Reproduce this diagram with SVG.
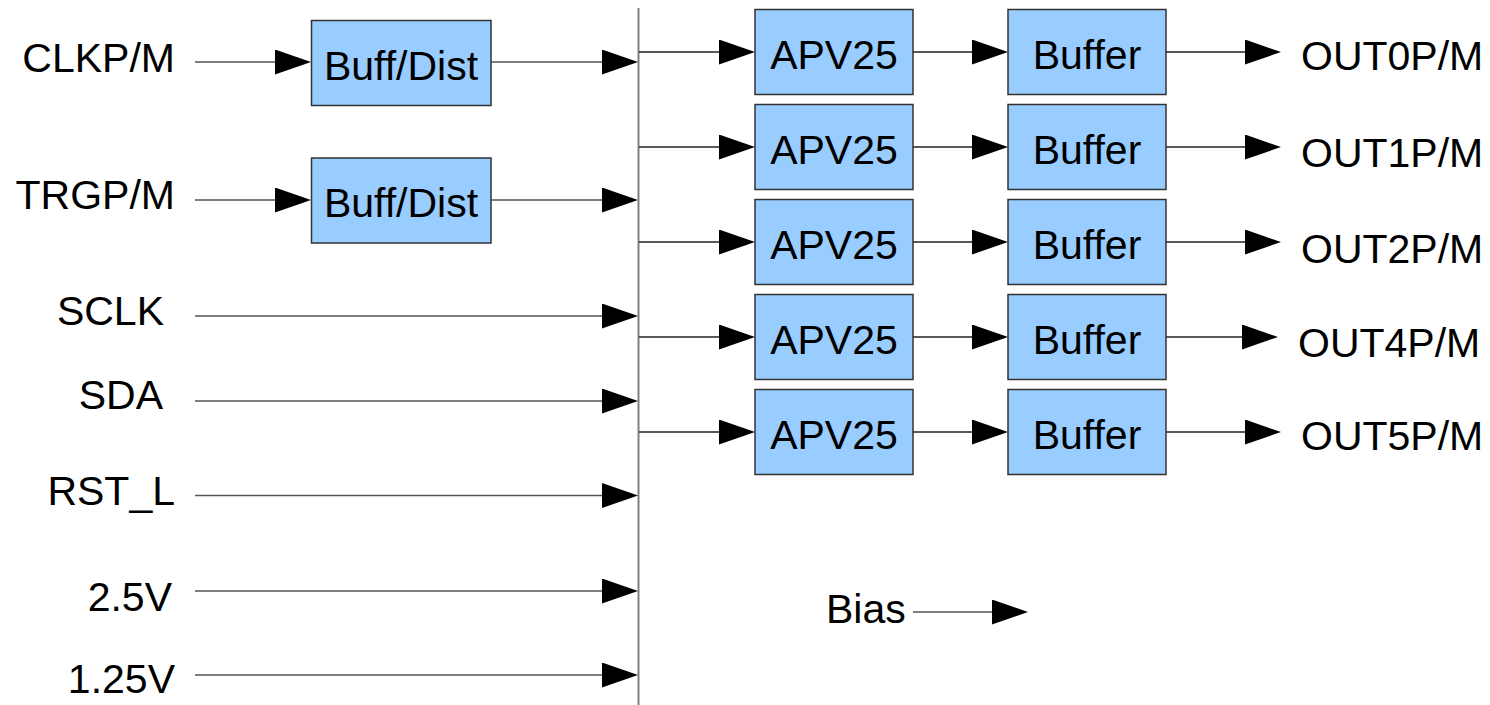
<svg xmlns="http://www.w3.org/2000/svg" width="1490" height="705" viewBox="0 0 1490 705">
  <defs>
    <marker id="arrow" viewBox="0 0 36 25" refX="0" refY="12.5" markerWidth="36" markerHeight="25" markerUnits="userSpaceOnUse" orient="auto">
      <path d="M0,0 L36,12.5 L0,25 Z" fill="#000"/>
    </marker>
    <style>
      .box { fill: #99ccff; stroke: #333; stroke-width: 1.5; }
      .lbl { font-family: "Liberation Sans", Arial, sans-serif; font-size: 41px; fill: #000; }
      .mid { text-anchor: middle; }
      .end { text-anchor: end; }
      .wire { stroke: #555; stroke-width: 1.5; fill: none; }
      .branch { stroke: #222; stroke-width: 1.4; fill: none; }
      .arr { marker-end: url(#arrow); }
      .bus { stroke: #808080; stroke-width: 2; fill: none; }
    </style>
  </defs>
  <rect width="1490" height="705" fill="#fff"/>

  <!-- connectors -->
  <g id="connectors">
    <line class="bus" x1="638.5" y1="8" x2="638.5" y2="705"/>
    <!-- inputs -->
    <line class="wire arr" x1="195" y1="62" x2="275" y2="62"/>
    <line class="wire arr" x1="491" y1="62" x2="602" y2="62"/>
    <line class="wire arr" x1="195" y1="200" x2="275" y2="200"/>
    <line class="wire arr" x1="491" y1="200" x2="602" y2="200"/>
    <line class="wire arr" x1="195" y1="316" x2="602" y2="316"/>
    <line class="wire arr" x1="195" y1="401" x2="602" y2="401"/>
    <line class="wire arr" x1="195" y1="495.5" x2="602" y2="495.5"/>
    <line class="wire arr" x1="195" y1="591" x2="602" y2="591"/>
    <line class="wire arr" x1="195" y1="675" x2="602" y2="675"/>
    <!-- bus to APV25 -->
    <line class="branch arr" x1="639" y1="52" x2="719" y2="52"/>
    <line class="branch arr" x1="639" y1="147" x2="719" y2="147"/>
    <line class="branch arr" x1="639" y1="242" x2="719" y2="242"/>
    <line class="branch arr" x1="639" y1="337" x2="719" y2="337"/>
    <line class="branch arr" x1="639" y1="432" x2="719" y2="432"/>
    <!-- APV25 to Buffer -->
    <line class="branch arr" x1="913" y1="52" x2="972" y2="52"/>
    <line class="branch arr" x1="913" y1="147" x2="972" y2="147"/>
    <line class="branch arr" x1="913" y1="242" x2="972" y2="242"/>
    <line class="branch arr" x1="913" y1="337" x2="972" y2="337"/>
    <line class="branch arr" x1="913" y1="432" x2="972" y2="432"/>
    <!-- Buffer to outputs -->
    <line class="branch arr" x1="1166" y1="52" x2="1245" y2="52"/>
    <line class="branch arr" x1="1166" y1="147" x2="1245" y2="147"/>
    <line class="branch arr" x1="1166" y1="242" x2="1245" y2="242"/>
    <line class="branch arr" x1="1166" y1="337" x2="1242" y2="337"/>
    <line class="branch arr" x1="1166" y1="432" x2="1245" y2="432"/>
    <!-- bias -->
    <line class="wire arr" x1="913" y1="612" x2="992" y2="612"/>
  </g>

  <!-- input labels -->
  <g id="inputs">
    <text class="lbl end" x="175" y="72">CLKP/M</text>
    <text class="lbl end" x="175" y="209">TRGP/M</text>
    <text class="lbl end" x="164" y="325">SCLK</text>
    <text class="lbl end" x="163" y="409">SDA</text>
    <text class="lbl end" x="175" y="505">RST_L</text>
    <text class="lbl end" x="172" y="611">2.5V</text>
    <text class="lbl end" x="175" y="693">1.25V</text>
  </g>

  <g id="buffdist1">
    <rect class="box" x="311.5" y="20.5" width="179.5" height="85"/>
    <text class="lbl mid" x="401" y="80">Buff/Dist</text>
  </g>
  <g id="buffdist2">
    <rect class="box" x="311.5" y="158" width="179.5" height="85"/>
    <text class="lbl mid" x="401" y="217">Buff/Dist</text>
  </g>

  <g id="apv0">
    <rect class="box" x="755" y="9.5" width="158" height="85"/>
    <text class="lbl mid" x="834" y="69">APV25</text>
  </g>
  <g id="apv1">
    <rect class="box" x="755" y="104.5" width="158" height="85"/>
    <text class="lbl mid" x="834" y="164">APV25</text>
  </g>
  <g id="apv2">
    <rect class="box" x="755" y="199.5" width="158" height="85"/>
    <text class="lbl mid" x="834" y="259">APV25</text>
  </g>
  <g id="apv3">
    <rect class="box" x="755" y="294.5" width="158" height="85"/>
    <text class="lbl mid" x="834" y="354">APV25</text>
  </g>
  <g id="apv4">
    <rect class="box" x="755" y="389.5" width="158" height="85"/>
    <text class="lbl mid" x="834" y="449">APV25</text>
  </g>

  <g id="buf0">
    <rect class="box" x="1008" y="9.5" width="158" height="85"/>
    <text class="lbl mid" x="1087" y="69">Buffer</text>
  </g>
  <g id="buf1">
    <rect class="box" x="1008" y="104.5" width="158" height="85"/>
    <text class="lbl mid" x="1087" y="164">Buffer</text>
  </g>
  <g id="buf2">
    <rect class="box" x="1008" y="199.5" width="158" height="85"/>
    <text class="lbl mid" x="1087" y="259">Buffer</text>
  </g>
  <g id="buf3">
    <rect class="box" x="1008" y="294.5" width="158" height="85"/>
    <text class="lbl mid" x="1087" y="354">Buffer</text>
  </g>
  <g id="buf4">
    <rect class="box" x="1008" y="389.5" width="158" height="85"/>
    <text class="lbl mid" x="1087" y="449">Buffer</text>
  </g>

  <!-- output labels -->
  <g id="outputs">
    <text class="lbl" x="1301" y="70">OUT0P/M</text>
    <text class="lbl" x="1301" y="167">OUT1P/M</text>
    <text class="lbl" x="1301" y="263">OUT2P/M</text>
    <text class="lbl" x="1298" y="357">OUT4P/M</text>
    <text class="lbl" x="1301" y="450">OUT5P/M</text>
  </g>

  <g id="bias">
    <text class="lbl" x="826" y="623">Bias</text>
  </g>
</svg>
